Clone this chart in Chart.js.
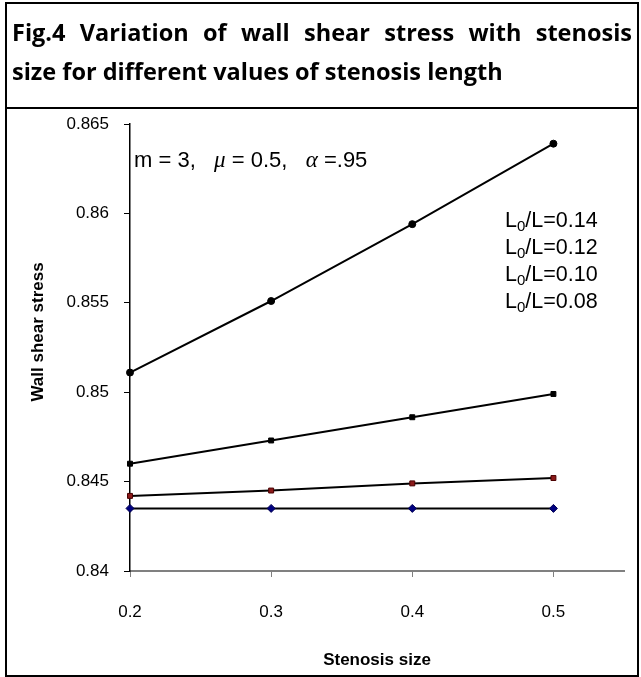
<!DOCTYPE html>
<html>
<head>
<meta charset="utf-8">
<script src="https://cdn.jsdelivr.net/npm/chart.js@4/dist/chart.umd.min.js"></script>
<style>
  html, body { margin: 0; padding: 0; background: #fff; }
  #wrap { position: relative; width: 641px; height: 677px; overflow: hidden; }
  #myChart { position: absolute; left: 0; top: 0; }
  .frame { position: absolute; border: 2px solid #000; box-sizing: border-box; }
  #title {
    position: absolute; left: 12px; width: 620px; top: 13px;
    font-family: "Open Sans", Lato, sans-serif; font-weight: bold; font-size: 23.5px;
    line-height: 39px; color: #000;
  }
  #title .l1 { text-align: justify; text-align-last: justify; }
</style>
</head>
<body>
<div id="wrap">
  <canvas id="myChart" width="641" height="677"></canvas>
  <div class="frame" style="left:5px;top:2px;width:634px;height:675px;"></div>
  <div class="frame" style="left:5px;top:2px;width:634px;height:107px;"></div>
  <div id="title">
    <div class="l1">Fig.4 Variation of wall shear stress with stenosis</div>
    <div>size for different values of stenosis length</div>
  </div>
</div>
<script>
const stenosisSize = [0.2, 0.3, 0.4, 0.5];
const lengthRatios = ['0.14', '0.12', '0.10', '0.08'];
const wss014 = [0.8511, 0.8551, 0.8594, 0.8639];
const wss012 = [0.8460, 0.8473, 0.8486, 0.8499];
const wss010 = [0.8442, 0.8445, 0.8449, 0.8452];
const wss008 = [0.8435, 0.8435, 0.8435, 0.8435];
const xTicks = [0.2, 0.3, 0.4, 0.5];
const yTicks = [0.84, 0.845, 0.85, 0.855, 0.86, 0.865];

const pts = (ys) => stenosisSize.map((x, i) => ({ x: x, y: ys[i] }));

const series = [
  { data: wss014, style: 'circle', fill: '#000', border: '#000', r: 3.5 },
  { data: wss012, style: 'rect', fill: '#000', border: '#000', r: 3.5 },
  { data: wss010, style: 'rect', fill: '#8b1a1a', border: '#4a0000', r: 3.5 },
  { data: wss008, style: 'rectRot', fill: '#000080', border: '#000050', r: 4 },
];

// text inside the plot: parameters, the L0/L list and the y title
const notes = {
  id: 'notes',
  afterDraw(chart) {
    const c = chart.ctx;
    c.save();
    c.fillStyle = '#000';
    c.textBaseline = 'alphabetic';
    const parts = [
      ['m = 3,   ', '22px "Liberation Sans"'],
      ['\u03bc', 'italic 23px "Liberation Serif"'],
      [' = 0.5,   ', '22px "Liberation Sans"'],
      ['\u03b1', 'italic 23px "Liberation Serif"'],
      [' =.95', '22px "Liberation Sans"'],
    ];
    let x = 134;
    for (const [t, f] of parts) {
      c.font = f;
      c.fillText(t, x, 167);
      x += c.measureText(t).width;
    }
    chart.data.datasets.forEach((ds, i) => {
      const y = 227 + i * 27;
      let lx = 505;
      c.font = '21.5px "Liberation Sans"';
      c.fillText('L', lx, y);
      lx += c.measureText('L').width;
      c.font = '15px "Liberation Sans"';
      c.fillText('0', lx, y + 4);
      lx += c.measureText('0').width;
      c.font = '21.5px "Liberation Sans"';
      c.fillText('/L=' + ds.label, lx, y);
    });
    c.translate(38, 332);
    c.rotate(-Math.PI / 2);
    c.textAlign = 'center';
    c.textBaseline = 'middle';
    c.font = 'bold 17px "Liberation Sans"';
    c.fillText('Wall shear stress', 0, 0);
    c.restore();
  }
};

const ctx = document.getElementById('myChart');
const myChart = new Chart(ctx, {
  type: 'line',
  data: {
    datasets: series.map((s, i) => ({
      label: lengthRatios[i],
      data: pts(s.data),
      borderColor: '#000',
      borderWidth: 2,
      pointStyle: s.style,
      pointRadius: s.r,
      pointBackgroundColor: s.fill,
      pointBorderColor: s.border,
      pointBorderWidth: 1,
      tension: 0,
      clip: false,
    })),
  },
  options: {
    responsive: false,
    animation: false,
    events: [],
    layout: { padding: { left: 30, top: 124, right: 17, bottom: 0 } },
    plugins: { legend: { display: false }, tooltip: { enabled: false } },
    scales: {
      x: {
        type: 'linear',
        min: 0.2,
        max: 0.55,
        afterBuildTicks: (axis) => { axis.ticks = xTicks.map(v => ({ value: v })); },
        afterFit: (axis) => { axis.height = 106; },
        ticks: {
          color: '#000',
          font: { family: 'Liberation Sans', size: 17 },
          padding: 25,
          maxRotation: 0,
          callback: (v) => String(v),
        },
        grid: { drawOnChartArea: false, tickLength: 6, color: '#808080', tickWidth: 1 },
        border: { color: '#808080', width: 2 },
        title: {
          display: true,
          text: 'Stenosis size',
          color: '#000',
          font: { family: 'Liberation Sans', size: 17, weight: 'bold' },
          padding: { top: 0, bottom: 6 },
        },
      },
      y: {
        min: 0.84,
        max: 0.865,
        afterBuildTicks: (axis) => { axis.ticks = yTicks.map(v => ({ value: v })); },
        afterFit: (axis) => { axis.width = 100; },
        ticks: {
          color: '#000',
          font: { family: 'Liberation Sans', size: 17 },
          padding: 15,
          callback: (v) => String(v),
        },
        grid: { drawOnChartArea: false, tickLength: 6, color: '#000', tickWidth: 1 },
        border: { color: '#000', width: 1.5 },
      },
    },
  },
  plugins: [notes],
});
</script>
</body>
</html>
